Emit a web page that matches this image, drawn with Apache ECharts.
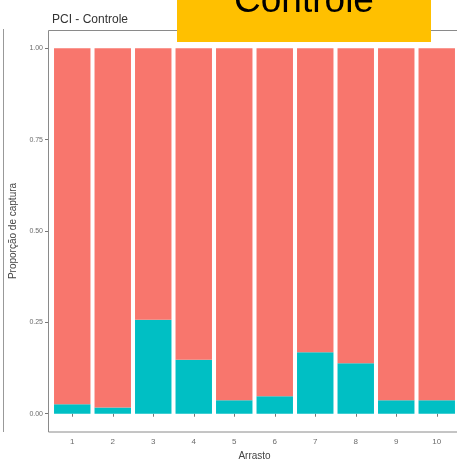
<!DOCTYPE html>
<html>
<head>
<meta charset="utf-8">
<script src="https://cdn.jsdelivr.net/npm/echarts@6/dist/echarts.min.js"></script>
<style>
  html, body { margin: 0; padding: 0; background: #fff; }
  #chart { width: 457px; height: 459px; }
</style>
</head>
<body>
<div id="chart"></div>
<script>
// arrastos (eixo x) e proporções
const arrastos = ['1', '2', '3', '4', '5', '6', '7', '8', '9', '10']
const propAzul = [0.026, 0.017, 0.257, 0.148, 0.037, 0.048, 0.168, 0.138, 0.037, 0.037]
const propVermelho = [0.974, 0.983, 0.743, 0.852, 0.963, 0.952, 0.832, 0.862, 0.963, 0.963]
const yTicks = [0, 0.25, 0.5, 0.75, 1]

const chart = echarts.init(document.getElementById('chart'))

const textGray = '#6b6b6b'

chart.setOption({
  animation: false,
  backgroundColor: '#fff',
  title: {
    text: 'PCI - Controle',
    left: 47,
    top: 9,
    textStyle: { fontFamily: 'Liberation Sans', fontSize: 12, fontWeight: 'normal', color: '#333' }
  },
  grid: {
    left: 52,
    top: 30,
    width: 405,
    height: 402,
    containLabel: false,
    outerBoundsMode: 'none'
  },
  xAxis: {
    type: 'category',
    data: arrastos,
    name: 'Arrasto',
    nameLocation: 'middle',
    nameGap: 16,
    nameTextStyle: { fontFamily: 'Liberation Sans', fontSize: 10, color: '#444' },
    splitLine: { show: false },
    axisLine: { show: false },
    axisTick: { show: true, alignWithLabel: true, length: 3, lineStyle: { color: '#777' } },
    axisLabel: {
      margin: 6,
      fontFamily: 'Liberation Sans',
      fontSize: 8,
      color: textGray
    }
  },
  yAxis: {
    type: 'value',
    min: -0.05,
    max: 1.05,
    offset: 4,
    name: 'Proporção de captura',
    nameLocation: 'middle',
    nameGap: 30,
    nameMoveOverlap: false,
    nameRotate: 90,
    nameTextStyle: { fontFamily: 'Liberation Sans', fontSize: 10, color: '#444' },
    splitLine: { show: false },
    axisLine: { show: false },
    axisTick: { show: true, customValues: yTicks, length: 3, lineStyle: { color: '#777' } },
    axisLabel: {
      customValues: yTicks,
      margin: 5,
      fontFamily: 'Liberation Sans',
      fontSize: 7,
      color: textGray,
      formatter: v => v.toFixed(2)
    }
  },
  series: [
    {
      type: 'bar',
      stack: 'p',
      barWidth: '90%',
      itemStyle: { color: '#00BFC4' },
      data: propAzul
    },
    {
      type: 'bar',
      stack: 'p',
      barWidth: '90%',
      itemStyle: { color: '#F8766D' },
      data: propVermelho
    }
  ],
  graphic: [
    {
      type: 'rect',
      shape: { x: 48.5, y: 30.5, width: 420, height: 401.5 },
      style: { fill: 'none', stroke: '#8a8a8a', lineWidth: 1 },
      z: 50
    },
    {
      type: 'line',
      shape: { x1: 3.5, y1: 29, x2: 3.5, y2: 432 },
      style: { stroke: '#999', lineWidth: 1 }
    },
    {
      type: 'rect',
      shape: { x: 177, y: 0, width: 254, height: 42 },
      style: { fill: '#FFC000' },
      z: 100
    },
    {
      type: 'text',
      x: 304,
      y: 20,
      z: 101,
      style: {
        text: 'Controle',
        fontFamily: 'Liberation Sans',
        fontSize: 37,
        fill: '#000',
        align: 'center',
        verticalAlign: 'bottom'
      }
    }
  ]
})
</script>
</body>
</html>
